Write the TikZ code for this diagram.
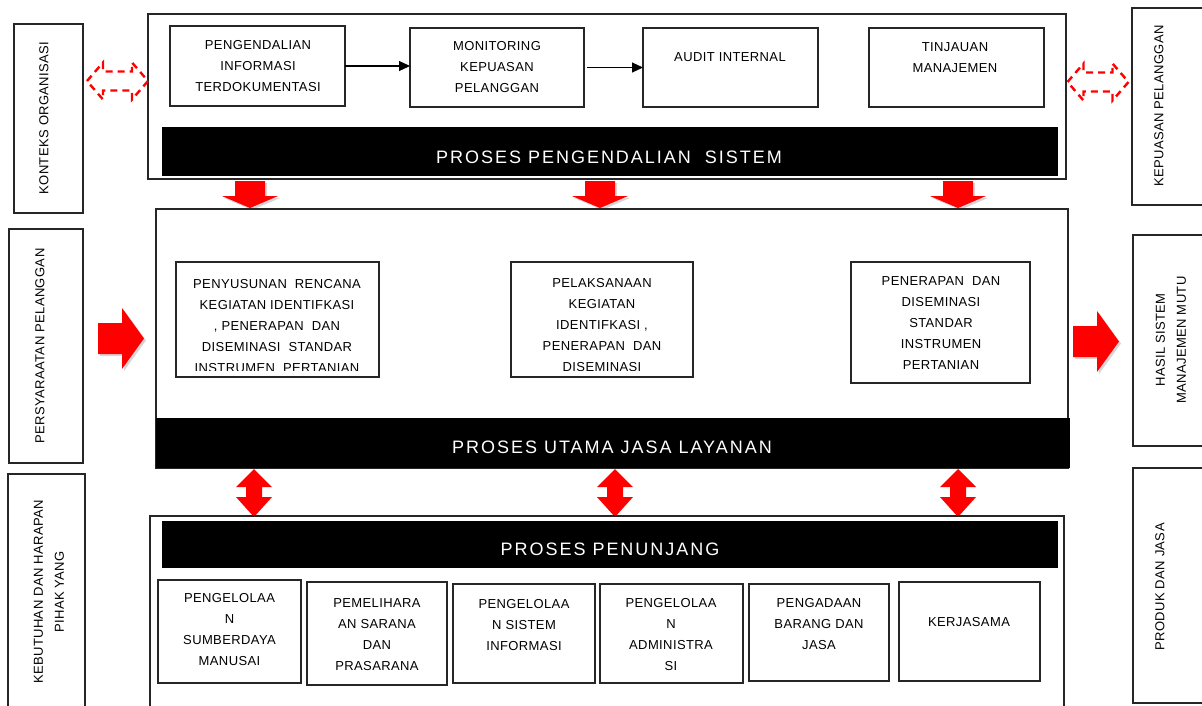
\documentclass[tikz,border=0pt]{standalone}
\usepackage{fontspec}
\setmainfont{Liberation Sans}
\newfontfamily\lsfont[LetterSpace=3]{Liberation Sans}
\newfontfamily\barfont[LetterSpace=11]{Liberation Sans}
\usetikzlibrary{arrows.meta}
\newcommand\DownShape{(-15,0)--(15,0)--(15,-15)--(28,-15)--(0,-27)--(-28,-15)--(-15,-15)--cycle}
\newcommand\RightShape{(0,15.5)--(24,15.5)--(24,30.5)--(46,0)--(24,-30.5)--(24,-15.5)--(0,-15.5)--cycle}
\newcommand\UpDownShape{(0,0)--(18,-18)--(8,-18)--(8,-28)--(18,-28)--(0,-48)--(-18,-28)--(-8,-28)--(-8,-18)--(-18,-18)--cycle}
\newcommand\DashShape{(-30.5,0)--(-14.5,18.5)--(-14.5,9.5)--(14.5,9.5)--(14.5,18.5)--(30.5,0)--(14.5,-18.5)--(14.5,-9.5)--(-14.5,-9.5)--(-14.5,-18.5)--cycle}
\tikzset{
  box/.style={draw=black!85,line width=1.3pt,fill=white,anchor=north west,inner sep=0pt,outer sep=0pt},
  bar/.style={fill=black,draw=none,anchor=north west,inner sep=0pt,outer sep=0pt},
  txt/.style={font=\lsfont\fontsize{13}{21}\selectfont,align=center,inner sep=0pt},
  bartxt/.style={font=\barfont\fontsize{18}{22}\selectfont,text=white,inner sep=0pt},
  conn/.style={line width=1.2pt,-{Triangle[length=11pt,width=10pt]}},
  shadowc/.style={fill=black!45,opacity=.35},
  downarr/.pic={\fill[shadowc,shift={(2,-2)}] \DownShape; \fill[red] \DownShape;},
  rightarr/.pic={\fill[shadowc,shift={(2,-2)}] \RightShape; \fill[red] \RightShape;},
  updownarr/.pic={\fill[red] \UpDownShape;},
  dasharr/.pic={\draw[red,line width=2.4pt,dash pattern=on 7pt off 5pt] \DashShape;}
}
\begin{document}
\begin{tikzpicture}[x=1pt,y=1pt]
\useasboundingbox (0,0) rectangle (1202,-705);
\fill[white] (0,0) rectangle (1202,-705);
\clip (0,0) rectangle (1202,-705);

% side boxes
\node[box,minimum width=69pt,minimum height=189pt] (kon) at (14,-24) {};
\node[box,minimum width=74pt,minimum height=234pt] (per) at (9,-229) {};
\node[box,minimum width=77pt,minimum height=260pt] (keb) at (8,-474) {};
\node[box,minimum width=90pt,minimum height=197pt] (kep) at (1132,-8) {};
\node[box,minimum width=90pt,minimum height=211pt] (has) at (1133,-235) {};
\node[box,minimum width=90pt,minimum height=235pt] (pro) at (1133,-468) {};
\node[txt,rotate=90] (kont) at (44,-118) {KONTEKS ORGANISASI};
\node[txt,rotate=90] (pert) at (40,-346) {PERSYARAATAN PELANGGAN};
\node[txt,rotate=90] (kebt) at (49,-592) {KEBUTUHAN DAN HARAPAN\\PIHAK YANG};
\node[txt,rotate=90] (kept) at (1159,-106) {KEPUASAN PELANGGAN};
\node[txt,rotate=90] (hast) at (1171,-340) {HASIL SISTEM\\MANAJEMEN MUTU};
\node[txt,rotate=90] (prot) at (1160,-587) {PRODUK DAN JASA};

% top block
\node[box,line width=1.6pt,minimum width=918pt,minimum height=165pt] (top) at (148,-14) {};
\node[box,minimum width=175pt,minimum height=80pt] (tb1) at (170,-26) {};
\node[box,minimum width=174pt,minimum height=79pt] (tb2) at (410,-28) {};
\node[box,minimum width=175pt,minimum height=79pt] (tb3) at (643,-28) {};
\node[box,minimum width=175pt,minimum height=79pt] (tb4) at (869,-28) {};
\node[txt] (tb1t) at (258,-66) {PENGENDALIAN\\INFORMASI\\TERDOKUMENTASI};
\node[txt] (tb2t) at (497,-67.5) {MONITORING\\KEPUASAN\\PELANGGAN};
\node[txt] (tb3t) at (730,-57) {AUDIT INTERNAL};
\node[txt] (tb4t) at (955,-57.5) {TINJAUAN\\MANAJEMEN};
\draw[conn] (tb1.east) -- (tb1.east -| tb2.west);
\draw[conn] ([xshift=3pt]tb2.east) -- (tb2.east -| tb3.west);
\node[bar,minimum width=896pt,minimum height=49pt] (bar1) at (162,-127) {};
\node[bartxt] (bar1t) at (609,-157) {PROSES PENGENDALIAN\ \ SISTEM};

% down arrows
\pic at (250,-181) {downarr};
\pic at (600,-181) {downarr};
\pic at (958,-181) {downarr};

% dashed double arrows
\pic at (117.5,-81) {dasharr};
\pic at (1098,-82) {dasharr};

% middle block
\node[box,minimum width=912pt,minimum height=259pt] (mid) at (156,-209) {};
\node[box,minimum width=203pt,minimum height=115pt] (mb1) at (176,-262) {};
\node[box,minimum width=182pt,minimum height=115pt] (mb2) at (511,-262) {};
\node[box,minimum width=179pt,minimum height=121pt] (mb3) at (851,-262) {};
\begin{scope}
\clip ([shift={(1pt,-1pt)}]mb1.north west) rectangle ([shift={(-1pt,7pt)}]mb1.south east);
\node[txt] (mb1t) at (277,-326) {PENYUSUNAN\ \ RENCANA\\KEGIATAN IDENTIFKASI\\, PENERAPAN\ \ DAN\\DISEMINASI\ \ STANDAR\\INSTRUMEN\ \ PERTANIAN};
\end{scope}
\begin{scope}
\clip ([shift={(1pt,-1pt)}]mb2.north west) rectangle ([shift={(-1pt,7pt)}]mb2.south east);
\node[txt] (mb2t) at (602,-325) {PELAKSANAAN\\KEGIATAN\\IDENTIFKASI ,\\PENERAPAN\ \ DAN\\DISEMINASI};
\end{scope}
\node[txt] (mb3t) at (941,-323.5) {PENERAPAN\ \ DAN\\DISEMINASI\\STANDAR\\INSTRUMEN\\PERTANIAN};
\node[bar,minimum width=914pt,minimum height=50pt] (bar2) at (156,-418) {};
\node[bartxt] (bar2t) at (612,-447) {PROSES UTAMA JASA LAYANAN};

% side red arrows
\pic at (98,-338.5) {rightarr};
\pic at (1073,-341.5) {rightarr};

% double arrows
\pic at (254,-469) {updownarr};
\pic at (615,-469) {updownarr};
\pic at (958,-469) {updownarr};

% bottom block
\node[box,minimum width=914pt,minimum height=220pt] (bot) at (150,-516) {};
\node[bar,minimum width=896pt,minimum height=47pt] (bar3) at (162,-521) {};
\node[bartxt] (bar3t) at (610,-549) {PROSES PENUNJANG};
\node[box,minimum width=143pt,minimum height=103pt] (sb1) at (158,-580) {};
\node[box,minimum width=140pt,minimum height=103pt] (sb2) at (307,-582) {};
\node[box,minimum width=142pt,minimum height=99pt] (sb3) at (453,-584) {};
\node[box,minimum width=143pt,minimum height=99pt] (sb4) at (600,-584) {};
\node[box,minimum width=140pt,minimum height=97pt] (sb5) at (749,-584) {};
\node[box,minimum width=141pt,minimum height=99pt] (sb6) at (899,-582) {};
\node[txt] (sb1t) at (229.5,-630) {PENGELOLAA\\N\\SUMBERDAYA\\MANUSAI};
\node[txt] (sb2t) at (377,-634.5) {PEMELIHARA\\AN SARANA\\DAN\\PRASARANA};
\node[txt] (sb3t) at (524,-625) {PENGELOLAA\\N SISTEM\\INFORMASI};
\node[txt] (sb4t) at (671,-635) {PENGELOLAA\\N\\ADMINISTRA\\SI};
\node[txt] (sb5t) at (819,-624) {PENGADAAN\\BARANG DAN\\JASA};
\node[txt] (sb6t) at (969,-622) {KERJASAMA};
\end{tikzpicture}
\end{document}
